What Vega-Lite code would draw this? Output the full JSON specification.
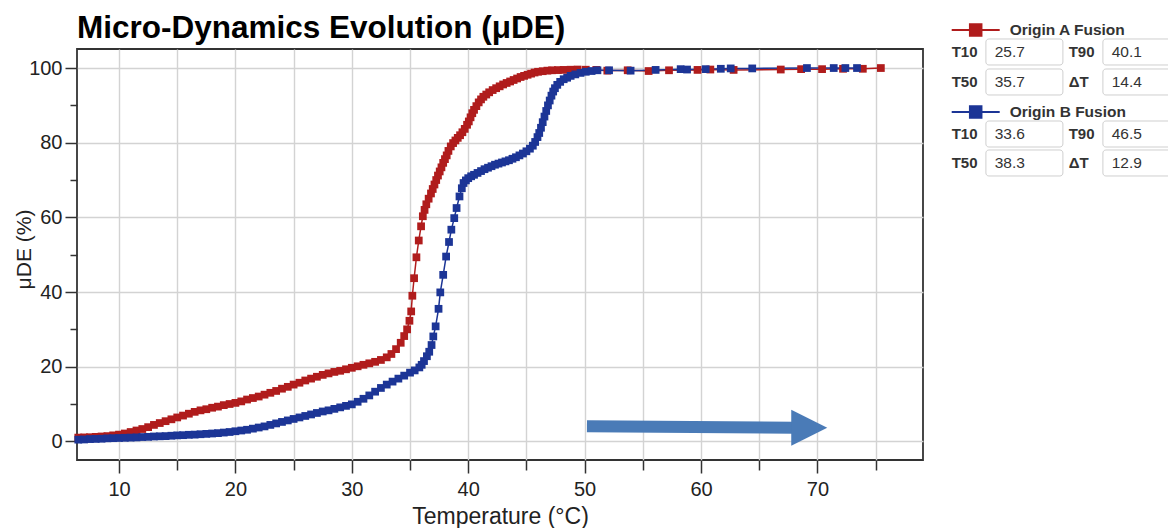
{
  "$schema": "https://vega.github.io/schema/vega-lite/v6.json",
  "autosize": {"type": "none"},
  "padding": {"left": 77, "top": 49, "right": 245, "bottom": 68},
  "width": 846,
  "height": 411,
  "title": {"text": "Micro-Dynamics Evolution (μDE)", "anchor": "start", "frame": "group", "fontSize": 31.5, "font": "Liberation Sans", "fontWeight": "bold", "color": "#000000", "offset": -24},
  "config": {
    "font": "Liberation Sans",
    "view": {"stroke": "#333333", "strokeWidth": 1.8},
    "axis": {"domain": false, "labelFont": "Liberation Sans", "labelFontSize": 20, "labelColor": "#222222", "titleFont": "Liberation Sans", "titleFontSize": 21, "titleFontWeight": "normal", "titleColor": "#222222", "tickColor": "#333333", "tickWidth": 1.5, "gridColor": "#d3d3d3", "gridWidth": 1.4, "labelOverlap": false, "labelBound": false, "labelFlush": false}
  },
  "datasets": {
    "curves": [
      {"series": "Origin A Fusion", "t": 6.5, "v": 1.0},
      {"series": "Origin A Fusion", "t": 7.0, "v": 1.05},
      {"series": "Origin A Fusion", "t": 7.5, "v": 1.1},
      {"series": "Origin A Fusion", "t": 8.0, "v": 1.2},
      {"series": "Origin A Fusion", "t": 8.5, "v": 1.3},
      {"series": "Origin A Fusion", "t": 9.0, "v": 1.4},
      {"series": "Origin A Fusion", "t": 9.5, "v": 1.6},
      {"series": "Origin A Fusion", "t": 10.0, "v": 1.8},
      {"series": "Origin A Fusion", "t": 10.5, "v": 2.1},
      {"series": "Origin A Fusion", "t": 11.0, "v": 2.5},
      {"series": "Origin A Fusion", "t": 11.5, "v": 2.9},
      {"series": "Origin A Fusion", "t": 12.0, "v": 3.3},
      {"series": "Origin A Fusion", "t": 12.5, "v": 3.8},
      {"series": "Origin A Fusion", "t": 13.0, "v": 4.4},
      {"series": "Origin A Fusion", "t": 13.5, "v": 4.9},
      {"series": "Origin A Fusion", "t": 14.0, "v": 5.4},
      {"series": "Origin A Fusion", "t": 14.5, "v": 5.9},
      {"series": "Origin A Fusion", "t": 15.0, "v": 6.4},
      {"series": "Origin A Fusion", "t": 15.5, "v": 6.9},
      {"series": "Origin A Fusion", "t": 16.0, "v": 7.4},
      {"series": "Origin A Fusion", "t": 16.5, "v": 7.9},
      {"series": "Origin A Fusion", "t": 17.0, "v": 8.3},
      {"series": "Origin A Fusion", "t": 17.5, "v": 8.6},
      {"series": "Origin A Fusion", "t": 18.0, "v": 9.0},
      {"series": "Origin A Fusion", "t": 18.5, "v": 9.3},
      {"series": "Origin A Fusion", "t": 19.0, "v": 9.7},
      {"series": "Origin A Fusion", "t": 19.5, "v": 10.0},
      {"series": "Origin A Fusion", "t": 20.0, "v": 10.3},
      {"series": "Origin A Fusion", "t": 20.5, "v": 10.7},
      {"series": "Origin A Fusion", "t": 21.0, "v": 11.2},
      {"series": "Origin A Fusion", "t": 21.5, "v": 11.6},
      {"series": "Origin A Fusion", "t": 22.0, "v": 12.0},
      {"series": "Origin A Fusion", "t": 22.5, "v": 12.5},
      {"series": "Origin A Fusion", "t": 23.0, "v": 13.0},
      {"series": "Origin A Fusion", "t": 23.5, "v": 13.5},
      {"series": "Origin A Fusion", "t": 24.0, "v": 14.1},
      {"series": "Origin A Fusion", "t": 24.5, "v": 14.6},
      {"series": "Origin A Fusion", "t": 25.0, "v": 15.2},
      {"series": "Origin A Fusion", "t": 25.5, "v": 15.7},
      {"series": "Origin A Fusion", "t": 26.0, "v": 16.3},
      {"series": "Origin A Fusion", "t": 26.5, "v": 16.8},
      {"series": "Origin A Fusion", "t": 27.0, "v": 17.3},
      {"series": "Origin A Fusion", "t": 27.5, "v": 17.8},
      {"series": "Origin A Fusion", "t": 28.0, "v": 18.2},
      {"series": "Origin A Fusion", "t": 28.5, "v": 18.6},
      {"series": "Origin A Fusion", "t": 29.0, "v": 18.9},
      {"series": "Origin A Fusion", "t": 29.5, "v": 19.3},
      {"series": "Origin A Fusion", "t": 30.0, "v": 19.7},
      {"series": "Origin A Fusion", "t": 30.5, "v": 20.1},
      {"series": "Origin A Fusion", "t": 31.0, "v": 20.5},
      {"series": "Origin A Fusion", "t": 31.5, "v": 20.9},
      {"series": "Origin A Fusion", "t": 32.0, "v": 21.3},
      {"series": "Origin A Fusion", "t": 32.5, "v": 21.8},
      {"series": "Origin A Fusion", "t": 33.0, "v": 22.5},
      {"series": "Origin A Fusion", "t": 33.4, "v": 23.4},
      {"series": "Origin A Fusion", "t": 33.8, "v": 24.7},
      {"series": "Origin A Fusion", "t": 34.2, "v": 26.4},
      {"series": "Origin A Fusion", "t": 34.5, "v": 28.2},
      {"series": "Origin A Fusion", "t": 34.75, "v": 30.0},
      {"series": "Origin A Fusion", "t": 34.95, "v": 32.3},
      {"series": "Origin A Fusion", "t": 35.1, "v": 34.8},
      {"series": "Origin A Fusion", "t": 35.2, "v": 39.0},
      {"series": "Origin A Fusion", "t": 35.35, "v": 43.7},
      {"series": "Origin A Fusion", "t": 35.55, "v": 49.3},
      {"series": "Origin A Fusion", "t": 35.75, "v": 53.8},
      {"series": "Origin A Fusion", "t": 35.95, "v": 57.6},
      {"series": "Origin A Fusion", "t": 36.1, "v": 60.3},
      {"series": "Origin A Fusion", "t": 36.25, "v": 62.0},
      {"series": "Origin A Fusion", "t": 36.4, "v": 63.5},
      {"series": "Origin A Fusion", "t": 36.6, "v": 65.0},
      {"series": "Origin A Fusion", "t": 36.8, "v": 66.4},
      {"series": "Origin A Fusion", "t": 36.95, "v": 67.6},
      {"series": "Origin A Fusion", "t": 37.1, "v": 68.8},
      {"series": "Origin A Fusion", "t": 37.25, "v": 70.0},
      {"series": "Origin A Fusion", "t": 37.4, "v": 71.2},
      {"series": "Origin A Fusion", "t": 37.55, "v": 72.3},
      {"series": "Origin A Fusion", "t": 37.7, "v": 73.4},
      {"series": "Origin A Fusion", "t": 37.85, "v": 74.6},
      {"series": "Origin A Fusion", "t": 38.0, "v": 75.6},
      {"series": "Origin A Fusion", "t": 38.15, "v": 76.6},
      {"series": "Origin A Fusion", "t": 38.3, "v": 77.8},
      {"series": "Origin A Fusion", "t": 38.5, "v": 79.0},
      {"series": "Origin A Fusion", "t": 38.7, "v": 79.9},
      {"series": "Origin A Fusion", "t": 38.9, "v": 80.6},
      {"series": "Origin A Fusion", "t": 39.1, "v": 81.3},
      {"series": "Origin A Fusion", "t": 39.3, "v": 82.0},
      {"series": "Origin A Fusion", "t": 39.5, "v": 82.8},
      {"series": "Origin A Fusion", "t": 39.7, "v": 83.7},
      {"series": "Origin A Fusion", "t": 39.9, "v": 84.8},
      {"series": "Origin A Fusion", "t": 40.05, "v": 85.7},
      {"series": "Origin A Fusion", "t": 40.2, "v": 86.8},
      {"series": "Origin A Fusion", "t": 40.35, "v": 87.9},
      {"series": "Origin A Fusion", "t": 40.5, "v": 88.8},
      {"series": "Origin A Fusion", "t": 40.7, "v": 89.8},
      {"series": "Origin A Fusion", "t": 40.9, "v": 90.8},
      {"series": "Origin A Fusion", "t": 41.1, "v": 91.6},
      {"series": "Origin A Fusion", "t": 41.3, "v": 92.3},
      {"series": "Origin A Fusion", "t": 41.55, "v": 92.9},
      {"series": "Origin A Fusion", "t": 41.8, "v": 93.5},
      {"series": "Origin A Fusion", "t": 42.1, "v": 94.1},
      {"series": "Origin A Fusion", "t": 42.4, "v": 94.6},
      {"series": "Origin A Fusion", "t": 42.7, "v": 95.1},
      {"series": "Origin A Fusion", "t": 43.0, "v": 95.6},
      {"series": "Origin A Fusion", "t": 43.3, "v": 96.0},
      {"series": "Origin A Fusion", "t": 43.6, "v": 96.4},
      {"series": "Origin A Fusion", "t": 43.9, "v": 96.8},
      {"series": "Origin A Fusion", "t": 44.2, "v": 97.2},
      {"series": "Origin A Fusion", "t": 44.5, "v": 97.6},
      {"series": "Origin A Fusion", "t": 44.8, "v": 97.9},
      {"series": "Origin A Fusion", "t": 45.1, "v": 98.2},
      {"series": "Origin A Fusion", "t": 45.4, "v": 98.5},
      {"series": "Origin A Fusion", "t": 45.7, "v": 98.8},
      {"series": "Origin A Fusion", "t": 46.0, "v": 99.0},
      {"series": "Origin A Fusion", "t": 46.4, "v": 99.15},
      {"series": "Origin A Fusion", "t": 46.8, "v": 99.3},
      {"series": "Origin A Fusion", "t": 47.2, "v": 99.4},
      {"series": "Origin A Fusion", "t": 47.7, "v": 99.45},
      {"series": "Origin A Fusion", "t": 48.2, "v": 99.5},
      {"series": "Origin A Fusion", "t": 48.8, "v": 99.55},
      {"series": "Origin A Fusion", "t": 49.4, "v": 99.6},
      {"series": "Origin A Fusion", "t": 50.1, "v": 99.55},
      {"series": "Origin A Fusion", "t": 51.0, "v": 99.5},
      {"series": "Origin A Fusion", "t": 51.95, "v": 99.3},
      {"series": "Origin A Fusion", "t": 53.7, "v": 99.4},
      {"series": "Origin A Fusion", "t": 55.5, "v": 99.2},
      {"series": "Origin A Fusion", "t": 57.25, "v": 99.4},
      {"series": "Origin A Fusion", "t": 59.7, "v": 99.5},
      {"series": "Origin A Fusion", "t": 60.8, "v": 99.6},
      {"series": "Origin A Fusion", "t": 62.8, "v": 99.5},
      {"series": "Origin A Fusion", "t": 66.85, "v": 99.6},
      {"series": "Origin A Fusion", "t": 68.6, "v": 99.7},
      {"series": "Origin A Fusion", "t": 70.4, "v": 99.7},
      {"series": "Origin A Fusion", "t": 72.2, "v": 99.8},
      {"series": "Origin A Fusion", "t": 73.9, "v": 99.8},
      {"series": "Origin A Fusion", "t": 75.45, "v": 100.0},
      {"series": "Origin B Fusion", "t": 6.5, "v": 0.45},
      {"series": "Origin B Fusion", "t": 7.0, "v": 0.5},
      {"series": "Origin B Fusion", "t": 7.5, "v": 0.6},
      {"series": "Origin B Fusion", "t": 8.0, "v": 0.65},
      {"series": "Origin B Fusion", "t": 8.5, "v": 0.7},
      {"series": "Origin B Fusion", "t": 9.0, "v": 0.8},
      {"series": "Origin B Fusion", "t": 9.5, "v": 0.85},
      {"series": "Origin B Fusion", "t": 10.0, "v": 0.9},
      {"series": "Origin B Fusion", "t": 10.5, "v": 0.95},
      {"series": "Origin B Fusion", "t": 11.0, "v": 1.0},
      {"series": "Origin B Fusion", "t": 11.5, "v": 1.05},
      {"series": "Origin B Fusion", "t": 12.0, "v": 1.15},
      {"series": "Origin B Fusion", "t": 12.5, "v": 1.2},
      {"series": "Origin B Fusion", "t": 13.0, "v": 1.3},
      {"series": "Origin B Fusion", "t": 13.5, "v": 1.35},
      {"series": "Origin B Fusion", "t": 14.0, "v": 1.4},
      {"series": "Origin B Fusion", "t": 14.5, "v": 1.5},
      {"series": "Origin B Fusion", "t": 15.0, "v": 1.6},
      {"series": "Origin B Fusion", "t": 15.5, "v": 1.65},
      {"series": "Origin B Fusion", "t": 16.0, "v": 1.75},
      {"series": "Origin B Fusion", "t": 16.5, "v": 1.8},
      {"series": "Origin B Fusion", "t": 17.0, "v": 1.9},
      {"series": "Origin B Fusion", "t": 17.5, "v": 2.0},
      {"series": "Origin B Fusion", "t": 18.0, "v": 2.1},
      {"series": "Origin B Fusion", "t": 18.5, "v": 2.2},
      {"series": "Origin B Fusion", "t": 19.0, "v": 2.35},
      {"series": "Origin B Fusion", "t": 19.5, "v": 2.5},
      {"series": "Origin B Fusion", "t": 20.0, "v": 2.7},
      {"series": "Origin B Fusion", "t": 20.5, "v": 2.9},
      {"series": "Origin B Fusion", "t": 21.0, "v": 3.1},
      {"series": "Origin B Fusion", "t": 21.5, "v": 3.4},
      {"series": "Origin B Fusion", "t": 22.0, "v": 3.7},
      {"series": "Origin B Fusion", "t": 22.5, "v": 4.0},
      {"series": "Origin B Fusion", "t": 23.0, "v": 4.4},
      {"series": "Origin B Fusion", "t": 23.5, "v": 4.8},
      {"series": "Origin B Fusion", "t": 24.0, "v": 5.2},
      {"series": "Origin B Fusion", "t": 24.5, "v": 5.6},
      {"series": "Origin B Fusion", "t": 25.0, "v": 6.0},
      {"series": "Origin B Fusion", "t": 25.5, "v": 6.4},
      {"series": "Origin B Fusion", "t": 26.0, "v": 6.8},
      {"series": "Origin B Fusion", "t": 26.5, "v": 7.2},
      {"series": "Origin B Fusion", "t": 27.0, "v": 7.6},
      {"series": "Origin B Fusion", "t": 27.5, "v": 8.0},
      {"series": "Origin B Fusion", "t": 28.0, "v": 8.3},
      {"series": "Origin B Fusion", "t": 28.5, "v": 8.7},
      {"series": "Origin B Fusion", "t": 29.0, "v": 9.1},
      {"series": "Origin B Fusion", "t": 29.5, "v": 9.5},
      {"series": "Origin B Fusion", "t": 30.0, "v": 9.9},
      {"series": "Origin B Fusion", "t": 30.5, "v": 10.6},
      {"series": "Origin B Fusion", "t": 31.0, "v": 11.4},
      {"series": "Origin B Fusion", "t": 31.5, "v": 12.3},
      {"series": "Origin B Fusion", "t": 32.0, "v": 13.3},
      {"series": "Origin B Fusion", "t": 32.5, "v": 14.3},
      {"series": "Origin B Fusion", "t": 33.0, "v": 15.2},
      {"series": "Origin B Fusion", "t": 33.5, "v": 16.0},
      {"series": "Origin B Fusion", "t": 34.0, "v": 16.8},
      {"series": "Origin B Fusion", "t": 34.5, "v": 17.6},
      {"series": "Origin B Fusion", "t": 35.0, "v": 18.4},
      {"series": "Origin B Fusion", "t": 35.4, "v": 19.0},
      {"series": "Origin B Fusion", "t": 35.8, "v": 19.8},
      {"series": "Origin B Fusion", "t": 36.0, "v": 20.5},
      {"series": "Origin B Fusion", "t": 36.2, "v": 21.5},
      {"series": "Origin B Fusion", "t": 36.45, "v": 22.8},
      {"series": "Origin B Fusion", "t": 36.65, "v": 24.0},
      {"series": "Origin B Fusion", "t": 36.85, "v": 25.8},
      {"series": "Origin B Fusion", "t": 37.0, "v": 28.1},
      {"series": "Origin B Fusion", "t": 37.2, "v": 30.8},
      {"series": "Origin B Fusion", "t": 37.45, "v": 35.5},
      {"series": "Origin B Fusion", "t": 37.6, "v": 39.9},
      {"series": "Origin B Fusion", "t": 37.85, "v": 44.6},
      {"series": "Origin B Fusion", "t": 38.1, "v": 49.5},
      {"series": "Origin B Fusion", "t": 38.35, "v": 53.4},
      {"series": "Origin B Fusion", "t": 38.55, "v": 56.7},
      {"series": "Origin B Fusion", "t": 38.8, "v": 59.8},
      {"series": "Origin B Fusion", "t": 39.0, "v": 62.5},
      {"series": "Origin B Fusion", "t": 39.25, "v": 65.6},
      {"series": "Origin B Fusion", "t": 39.45, "v": 67.8},
      {"series": "Origin B Fusion", "t": 39.6, "v": 69.2},
      {"series": "Origin B Fusion", "t": 39.8, "v": 69.9},
      {"series": "Origin B Fusion", "t": 40.0, "v": 70.5},
      {"series": "Origin B Fusion", "t": 40.25, "v": 71.0},
      {"series": "Origin B Fusion", "t": 40.5, "v": 71.4},
      {"series": "Origin B Fusion", "t": 40.8, "v": 71.9},
      {"series": "Origin B Fusion", "t": 41.1, "v": 72.4},
      {"series": "Origin B Fusion", "t": 41.4, "v": 72.9},
      {"series": "Origin B Fusion", "t": 41.7, "v": 73.3},
      {"series": "Origin B Fusion", "t": 42.0, "v": 73.7},
      {"series": "Origin B Fusion", "t": 42.3, "v": 74.1},
      {"series": "Origin B Fusion", "t": 42.6, "v": 74.4},
      {"series": "Origin B Fusion", "t": 42.9, "v": 74.7},
      {"series": "Origin B Fusion", "t": 43.2, "v": 75.0},
      {"series": "Origin B Fusion", "t": 43.5, "v": 75.3},
      {"series": "Origin B Fusion", "t": 43.8, "v": 75.7},
      {"series": "Origin B Fusion", "t": 44.1, "v": 76.1},
      {"series": "Origin B Fusion", "t": 44.4, "v": 76.6},
      {"series": "Origin B Fusion", "t": 44.7, "v": 77.1},
      {"series": "Origin B Fusion", "t": 45.0, "v": 77.7},
      {"series": "Origin B Fusion", "t": 45.3, "v": 78.4},
      {"series": "Origin B Fusion", "t": 45.55, "v": 79.2},
      {"series": "Origin B Fusion", "t": 45.75, "v": 80.2},
      {"series": "Origin B Fusion", "t": 45.95, "v": 81.5},
      {"series": "Origin B Fusion", "t": 46.1, "v": 82.6},
      {"series": "Origin B Fusion", "t": 46.25, "v": 84.0},
      {"series": "Origin B Fusion", "t": 46.4, "v": 85.5},
      {"series": "Origin B Fusion", "t": 46.55, "v": 87.0},
      {"series": "Origin B Fusion", "t": 46.7, "v": 88.5},
      {"series": "Origin B Fusion", "t": 46.85, "v": 90.0},
      {"series": "Origin B Fusion", "t": 47.0, "v": 91.3},
      {"series": "Origin B Fusion", "t": 47.15, "v": 92.6},
      {"series": "Origin B Fusion", "t": 47.3, "v": 93.7},
      {"series": "Origin B Fusion", "t": 47.45, "v": 94.6},
      {"series": "Origin B Fusion", "t": 47.65, "v": 95.5},
      {"series": "Origin B Fusion", "t": 47.9, "v": 96.3},
      {"series": "Origin B Fusion", "t": 48.2, "v": 97.0},
      {"series": "Origin B Fusion", "t": 48.5, "v": 97.4},
      {"series": "Origin B Fusion", "t": 48.8, "v": 97.9},
      {"series": "Origin B Fusion", "t": 49.2, "v": 98.3},
      {"series": "Origin B Fusion", "t": 49.65, "v": 98.7},
      {"series": "Origin B Fusion", "t": 50.1, "v": 99.0},
      {"series": "Origin B Fusion", "t": 50.6, "v": 99.2},
      {"series": "Origin B Fusion", "t": 51.1, "v": 99.4},
      {"series": "Origin B Fusion", "t": 52.1, "v": 99.4},
      {"series": "Origin B Fusion", "t": 53.95, "v": 99.3},
      {"series": "Origin B Fusion", "t": 56.1, "v": 99.5},
      {"series": "Origin B Fusion", "t": 58.25, "v": 99.7},
      {"series": "Origin B Fusion", "t": 58.8, "v": 99.6},
      {"series": "Origin B Fusion", "t": 60.4, "v": 99.7},
      {"series": "Origin B Fusion", "t": 61.7, "v": 99.8},
      {"series": "Origin B Fusion", "t": 62.55, "v": 99.9},
      {"series": "Origin B Fusion", "t": 64.4, "v": 99.9},
      {"series": "Origin B Fusion", "t": 69.1, "v": 100.0},
      {"series": "Origin B Fusion", "t": 71.4, "v": 100.0},
      {"series": "Origin B Fusion", "t": 72.4, "v": 100.0},
      {"series": "Origin B Fusion", "t": 73.4, "v": 100.0}
    ],
    "legendHeads": [
      {"series": "Origin A Fusion", "col": 0, "slot": 0},
      {"series": "Origin B Fusion", "col": 0, "slot": 2.733}
    ],
    "legendCells": [
      {"series": "Origin A Fusion", "label": "T10", "value": "25.7", "col": 0, "slot": 0.733},
      {"series": "Origin A Fusion", "label": "T90", "value": "40.1", "col": 1, "slot": 0.733},
      {"series": "Origin A Fusion", "label": "T50", "value": "35.7", "col": 0, "slot": 1.733},
      {"series": "Origin A Fusion", "label": "ΔT", "value": "14.4", "col": 1, "slot": 1.733},
      {"series": "Origin B Fusion", "label": "T10", "value": "33.6", "col": 0, "slot": 3.467},
      {"series": "Origin B Fusion", "label": "T90", "value": "46.5", "col": 1, "slot": 3.467},
      {"series": "Origin B Fusion", "label": "T50", "value": "38.3", "col": 0, "slot": 4.433},
      {"series": "Origin B Fusion", "label": "ΔT", "value": "12.9", "col": 1, "slot": 4.433}
    ]
  },
  "layer": [
    {
      "layer": [
        {
          "data": {"name": "curves"},
          "mark": {"type": "line", "strokeWidth": 1.5, "point": {"shape": "square", "size": 60, "filled": true, "opacity": 1}},
          "encoding": {
            "x": {"field": "t", "type": "quantitative", "scale": {"domain": [6.39, 79.07], "nice": false, "zero": false},
              "axis": {"values": [10, 15, 20, 25, 30, 35, 40, 45, 50, 55, 60, 65, 70, 75], "labelExpr": "datum.value % 10 === 0 ? datum.label : ''",
                "tickSize": {"condition": {"test": "datum.value % 10 === 0", "value": 13}, "value": 10},
                "labelPadding": 6, "title": "Temperature (°C)", "titleFontSize": 23, "titlePadding": 6}},
            "y": {"field": "v", "type": "quantitative", "scale": {"domain": [-5.0, 105.1], "nice": false, "zero": false},
              "axis": {"values": [0, 5, 10, 15, 20, 25, 30, 35, 40, 45, 50, 55, 60, 65, 70, 75, 80, 85, 90, 95, 100], "labelExpr": "datum.value % 20 === 0 ? datum.label : ''",
                "tickSize": {"condition": {"test": "datum.value % 20 === 0", "value": 12}, "value": 7},
                "gridOpacity": {"condition": {"test": "datum.value % 20 === 0", "value": 1}, "value": 0},
                "labelPadding": 3, "title": "μDE (%)", "titleFontSize": 21, "titleAngle": 270, "titleBaseline": "alphabetic", "titleX": -47, "titleY": 200}},
            "color": {"field": "series", "type": "nominal", "scale": {"domain": ["Origin A Fusion", "Origin B Fusion"], "range": ["#b01c1c", "#1c3596"]}, "legend": null}
          }
        },
        {
          "data": {"values": [{"t": 50.2, "v": 4.07, "t2": 68.0, "v2": 3.67}]},
          "mark": {"type": "rule", "strokeWidth": 12, "color": "#4a7bb7", "strokeCap": "butt"},
          "encoding": {
            "x": {"field": "t", "type": "quantitative"},
            "y": {"field": "v", "type": "quantitative"},
            "x2": {"field": "t2"},
            "y2": {"field": "v2"}
          }
        },
        {
          "data": {"values": [{"t": 69.3, "v": 3.67}]},
          "mark": {"type": "point", "shape": "M-1,-1L1,0L-1,1Z", "size": 1296, "filled": true, "opacity": 1, "color": "#4a7bb7"},
          "encoding": {
            "x": {"field": "t", "type": "quantitative"},
            "y": {"field": "v", "type": "quantitative"}
          }
        }
      ]
    },
    {
      "layer": [
        {
          "data": {"name": "legendCells"},
          "mark": {"type": "rect", "width": 77, "height": 26, "xOffset": 72.7, "cornerRadius": 3, "fill": "#ffffff", "stroke": "#cfcfcf", "strokeWidth": 1},
          "encoding": {
            "x": {"field": "col", "type": "quantitative", "scale": {"domain": [0, 1], "range": [874.7, 991.7], "nice": false, "zero": false}, "axis": null},
            "y": {"field": "slot", "type": "quantitative", "scale": {"domain": [0, 1], "range": [-19, 11], "nice": false, "zero": false}, "axis": null}
          }
        },
        {
          "data": {"name": "legendCells"},
          "mark": {"type": "text", "align": "left", "baseline": "middle", "fontSize": 15, "fontWeight": "bold", "color": "#333333", "font": "Liberation Sans"},
          "encoding": {
            "x": {"field": "col", "type": "quantitative"},
            "y": {"field": "slot", "type": "quantitative"},
            "text": {"field": "label"}
          }
        },
        {
          "data": {"name": "legendCells"},
          "mark": {"type": "text", "align": "left", "baseline": "middle", "dx": 43, "fontSize": 15.5, "color": "#333333", "font": "Liberation Sans"},
          "encoding": {
            "x": {"field": "col", "type": "quantitative"},
            "y": {"field": "slot", "type": "quantitative"},
            "text": {"field": "value"}
          }
        },
        {
          "data": {"name": "legendHeads"},
          "mark": {"type": "point", "shape": "M-1,0H1M-0.24,-0.24H0.24V0.24H-0.24Z", "size": 2304, "filled": true, "opacity": 1, "strokeWidth": 2, "xOffset": 24},
          "encoding": {
            "x": {"field": "col", "type": "quantitative"},
            "y": {"field": "slot", "type": "quantitative"},
            "color": {"field": "series", "type": "nominal", "legend": null},
            "stroke": {"field": "series", "type": "nominal", "scale": {"domain": ["Origin A Fusion", "Origin B Fusion"], "range": ["#b01c1c", "#1c3596"]}, "legend": null}
          }
        },
        {
          "data": {"name": "legendHeads"},
          "mark": {"type": "text", "align": "left", "baseline": "middle", "dx": 58, "fontSize": 15.5, "fontWeight": "bold", "color": "#333333", "font": "Liberation Sans"},
          "encoding": {
            "x": {"field": "col", "type": "quantitative"},
            "y": {"field": "slot", "type": "quantitative"},
            "text": {"field": "series"}
          }
        }
      ]
    }
  ],
  "resolve": {"scale": {"x": "independent", "y": "independent"}}
}
